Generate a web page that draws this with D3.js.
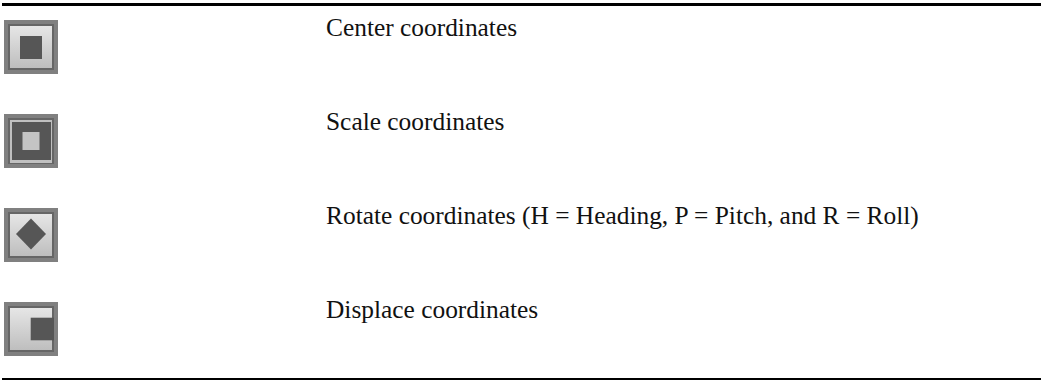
<!DOCTYPE html>
<html><head><meta charset="utf-8">
<script src="https://cdn.jsdelivr.net/npm/d3@7"></script>
<style>html,body{margin:0;padding:0;background:#fff;overflow:hidden}svg{display:block}</style>
</head><body><div id="c"></div>
<script>
const labels = ["Center coordinates","Scale coordinates","Rotate coordinates (H = Heading, P = Pitch, and R = Roll)","Displace coordinates"];
const icons = ["center","scale","rotate","displace"];
const iconTops = [20,114,208,302];
const textBaselines = [35.5,129.5,223.5,317.5];

const svg = d3.select("#c").append("svg").attr("width",1041).attr("height",380);
const defs = svg.append("defs");
const f = defs.append("filter").attr("id","b").attr("x","-10%").attr("y","-10%").attr("width","120%").attr("height","120%");
f.append("feGaussianBlur").attr("stdDeviation",0.7);
const g1 = defs.append("linearGradient").attr("id","lg").attr("x1",0).attr("y1",0).attr("x2",0).attr("y2",1);
g1.append("stop").attr("offset","0%").attr("stop-color","#e6e6e6");
g1.append("stop").attr("offset","100%").attr("stop-color","#bebebe");

svg.append("line").attr("x1",2).attr("x2",1041).attr("y1",4.5).attr("y2",4.5).attr("stroke","#000").attr("stroke-width",3);
svg.append("line").attr("x1",2).attr("x2",1041).attr("y1",379).attr("y2",379).attr("stroke","#000").attr("stroke-width",2);

const y = d3.scalePoint().domain(icons).range([iconTops[0],iconTops[3]]);
const S = 54;
const rows = svg.selectAll("g.row").data(icons).join("g").attr("class","row")
  .attr("transform",d=>`translate(4,${y(d)})`);
const ink = "#565656";
rows.each(function(d){
  const g = d3.select(this).append("g").attr("filter","url(#b)");
  g.append("rect").attr("width",S).attr("height",S).attr("fill","#808080");
  g.append("rect").attr("x",4).attr("y",4).attr("width",S-8).attr("height",S-8).attr("fill","#666");
  if(d==="scale"){
    g.append("rect").attr("x",6).attr("y",6).attr("width",S-12).attr("height",S-11).attr("fill","#c0c0c0");
    g.append("rect").attr("x",8).attr("y",8).attr("width",S-15).attr("height",S-16).attr("fill",ink);
    g.append("rect").attr("x",18.5).attr("y",18).attr("width",17).attr("height",18).attr("fill","#c4c4c4");
  } else {
    g.append("rect").attr("x",6).attr("y",6).attr("width",S-12).attr("height",S-12).attr("fill","url(#lg)");
    if(d==="center") g.append("rect").attr("x",16).attr("y",16).attr("width",22).attr("height",23).attr("fill",ink);
    if(d==="rotate") g.append("path").attr("d",d3.line()([[27,10.5],[42,26],[27,41.5],[12,26]])).attr("fill",ink);
    if(d==="displace") g.append("rect").attr("x",26.7).attr("y",15.7).attr("width",23.3).attr("height",22.6).attr("fill",ink);
  }
});
svg.selectAll("text.l").data(labels).join("text").attr("class","l")
  .attr("x",326).attr("y",(d,i)=>textBaselines[i])
  .attr("font-family","'Liberation Serif'").attr("font-size",25.4).attr("fill","#111").text(d=>d);
</script></body></html>
